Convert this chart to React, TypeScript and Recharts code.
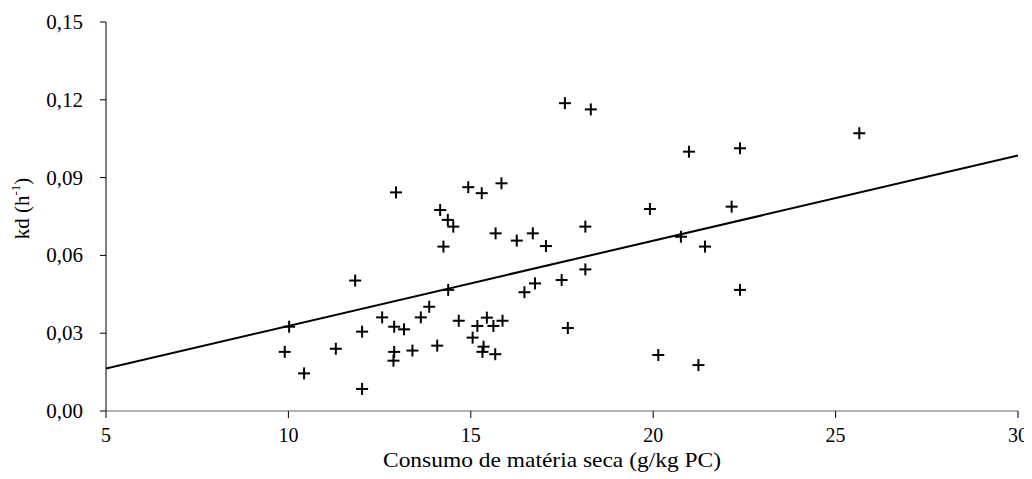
import React from "react";
import { ScatterChart, Scatter, XAxis, YAxis } from "recharts";

const consumo = [
  9.9, 10.02, 10.43, 11.3, 11.83, 12.02, 12.02, 12.57, 12.9, 13.17, 12.9, 12.88, 13.4, 13.63,
  13.86, 14.08, 14.25, 14.38, 14.67, 15.18, 15.44, 15.62, 15.87, 15.05, 15.35, 15.32, 15.67,
  16.47, 16.76, 15.68, 16.26, 16.7, 12.95, 14.16, 14.37, 14.52, 14.93, 15.3, 15.84, 17.06,
  18.14, 18.14, 17.58, 18.29, 19.91, 17.49, 17.66, 20.98, 22.38, 22.15, 20.76, 21.42, 22.38,
  20.14, 21.24, 25.65,
];
const kd = [
  0.0228, 0.0325, 0.0145, 0.024, 0.0503, 0.0306, 0.0085, 0.0361, 0.0325, 0.0315, 0.0228,
  0.0194, 0.0233, 0.0361, 0.0402, 0.0252, 0.0634, 0.0467, 0.0348, 0.0328, 0.036, 0.0328,
  0.0348, 0.0283, 0.0248, 0.0228, 0.0219, 0.0458, 0.0492, 0.0685, 0.0657, 0.0685, 0.0843,
  0.0775, 0.0737, 0.0711, 0.0863, 0.084, 0.0878, 0.0636, 0.0711, 0.0546, 0.1187, 0.1163,
  0.0779, 0.0505, 0.032, 0.1, 0.1013, 0.0788, 0.0672, 0.0634, 0.0467, 0.0216, 0.0177, 0.1071,
];
const trendX = [5, 30];
const trendY = [0.0164, 0.0985];
const xTicks = [5, 10, 15, 20, 25, 30];
const yTicks = [0, 0.03, 0.06, 0.09, 0.12, 0.15];

const points = consumo.map((x, i) => ({ x, y: kd[i] }));
const trend = trendX.map((x, i) => ({ x, y: trendY[i] }));

const FONT = "'Liberation Serif', 'Times New Roman', serif";
const fontStyle = { fontFamily: FONT };

const Cross = (props: any) => {
  const { cx, cy } = props;
  if (cx == null || cy == null) return null;
  return (
    <g>
      <line x1={cx - 6} y1={cy} x2={cx + 6} y2={cy} stroke="#000" strokeWidth={2} />
      <line x1={cx} y1={cy - 6} x2={cx} y2={cy + 6} stroke="#000" strokeWidth={2} />
    </g>
  );
};

const Nothing = () => <g />;

const XTick = (props: any) => {
  const { x, y, payload } = props;
  return (
    <text
      x={x}
      y={y}
      dy="0.71em"
      textAnchor="middle"
      fontFamily={FONT}
      style={fontStyle}
      fontSize={20}
      fill="#000"
    >
      {payload.value}
    </text>
  );
};

const YTick = (props: any) => {
  const { x, y, payload } = props;
  return (
    <text
      x={x}
      y={y}
      dominantBaseline="central"
      textAnchor="end"
      fontFamily={FONT}
      style={fontStyle}
      fontSize={21}
      fill="#000"
    >
      {Number(payload.value).toFixed(2).replace(".", ",")}
    </text>
  );
};

const YLabel = (props: any) => {
  const vb = props.viewBox || {};
  const x = (vb.x || 0) + 14;
  const y = (vb.y || 0) + (vb.height || 0) / 2 - 8;
  return (
    <text
      x={x}
      y={y}
      transform={`rotate(-90, ${x}, ${y})`}
      textAnchor="middle"
      dominantBaseline="central"
      fontFamily={FONT}
      style={fontStyle}
      fontSize={21}
      fill="#000"
    >
      kd (h
      <tspan fontSize={13} dy={-7}>-1</tspan>
      <tspan dy={7}>)</tspan>
    </text>
  );
};

const XLabel = (props: any) => {
  const vb = props.viewBox || {};
  const x = (vb.x || 0) + (vb.width || 0) / 2;
  const y = (vb.y || 0) + 49;
  return (
    <text
      x={x - 10}
      y={y}
      textAnchor="middle"
      dominantBaseline="central"
      fontFamily={FONT}
      style={fontStyle}
      fontSize={21}
      textLength={338}
      lengthAdjust="spacingAndGlyphs"
      fill="#000"
    >
      Consumo de matéria seca (g/kg PC)
    </text>
  );
};

export default function App() {
  return (
    <div style={{ width: 1024, height: 471, background: "#fff", fontFamily: FONT }}>
      <ScatterChart width={1024} height={471} margin={{ top: 14, right: 14, bottom: 8, left: 0 }}>
        <XAxis
          type="number"
          dataKey="x"
          domain={[5, 30]}
          ticks={xTicks}
          allowDataOverflow
          height={60}
          stroke="#666"
          tickSize={7}
          tickMargin={10}
          tick={<XTick />}
          tickLine={{ stroke: "#000" }}
          label={<XLabel />}
        />
        <YAxis
          type="number"
          dataKey="y"
          domain={[0, 0.15]}
          ticks={yTicks}
          allowDataOverflow
          width={98}
          stroke="#000"
          tickSize={6}
          tickMargin={17}
          tick={<YTick />}
          label={<YLabel />}
        />
        <Scatter
          data={trend}
          line={{ stroke: "#000", strokeWidth: 2 }}
          shape={<Nothing />}
          isAnimationActive={false}
        />
        <Scatter data={points} shape={<Cross />} isAnimationActive={false} />
      </ScatterChart>
    </div>
  );
}
